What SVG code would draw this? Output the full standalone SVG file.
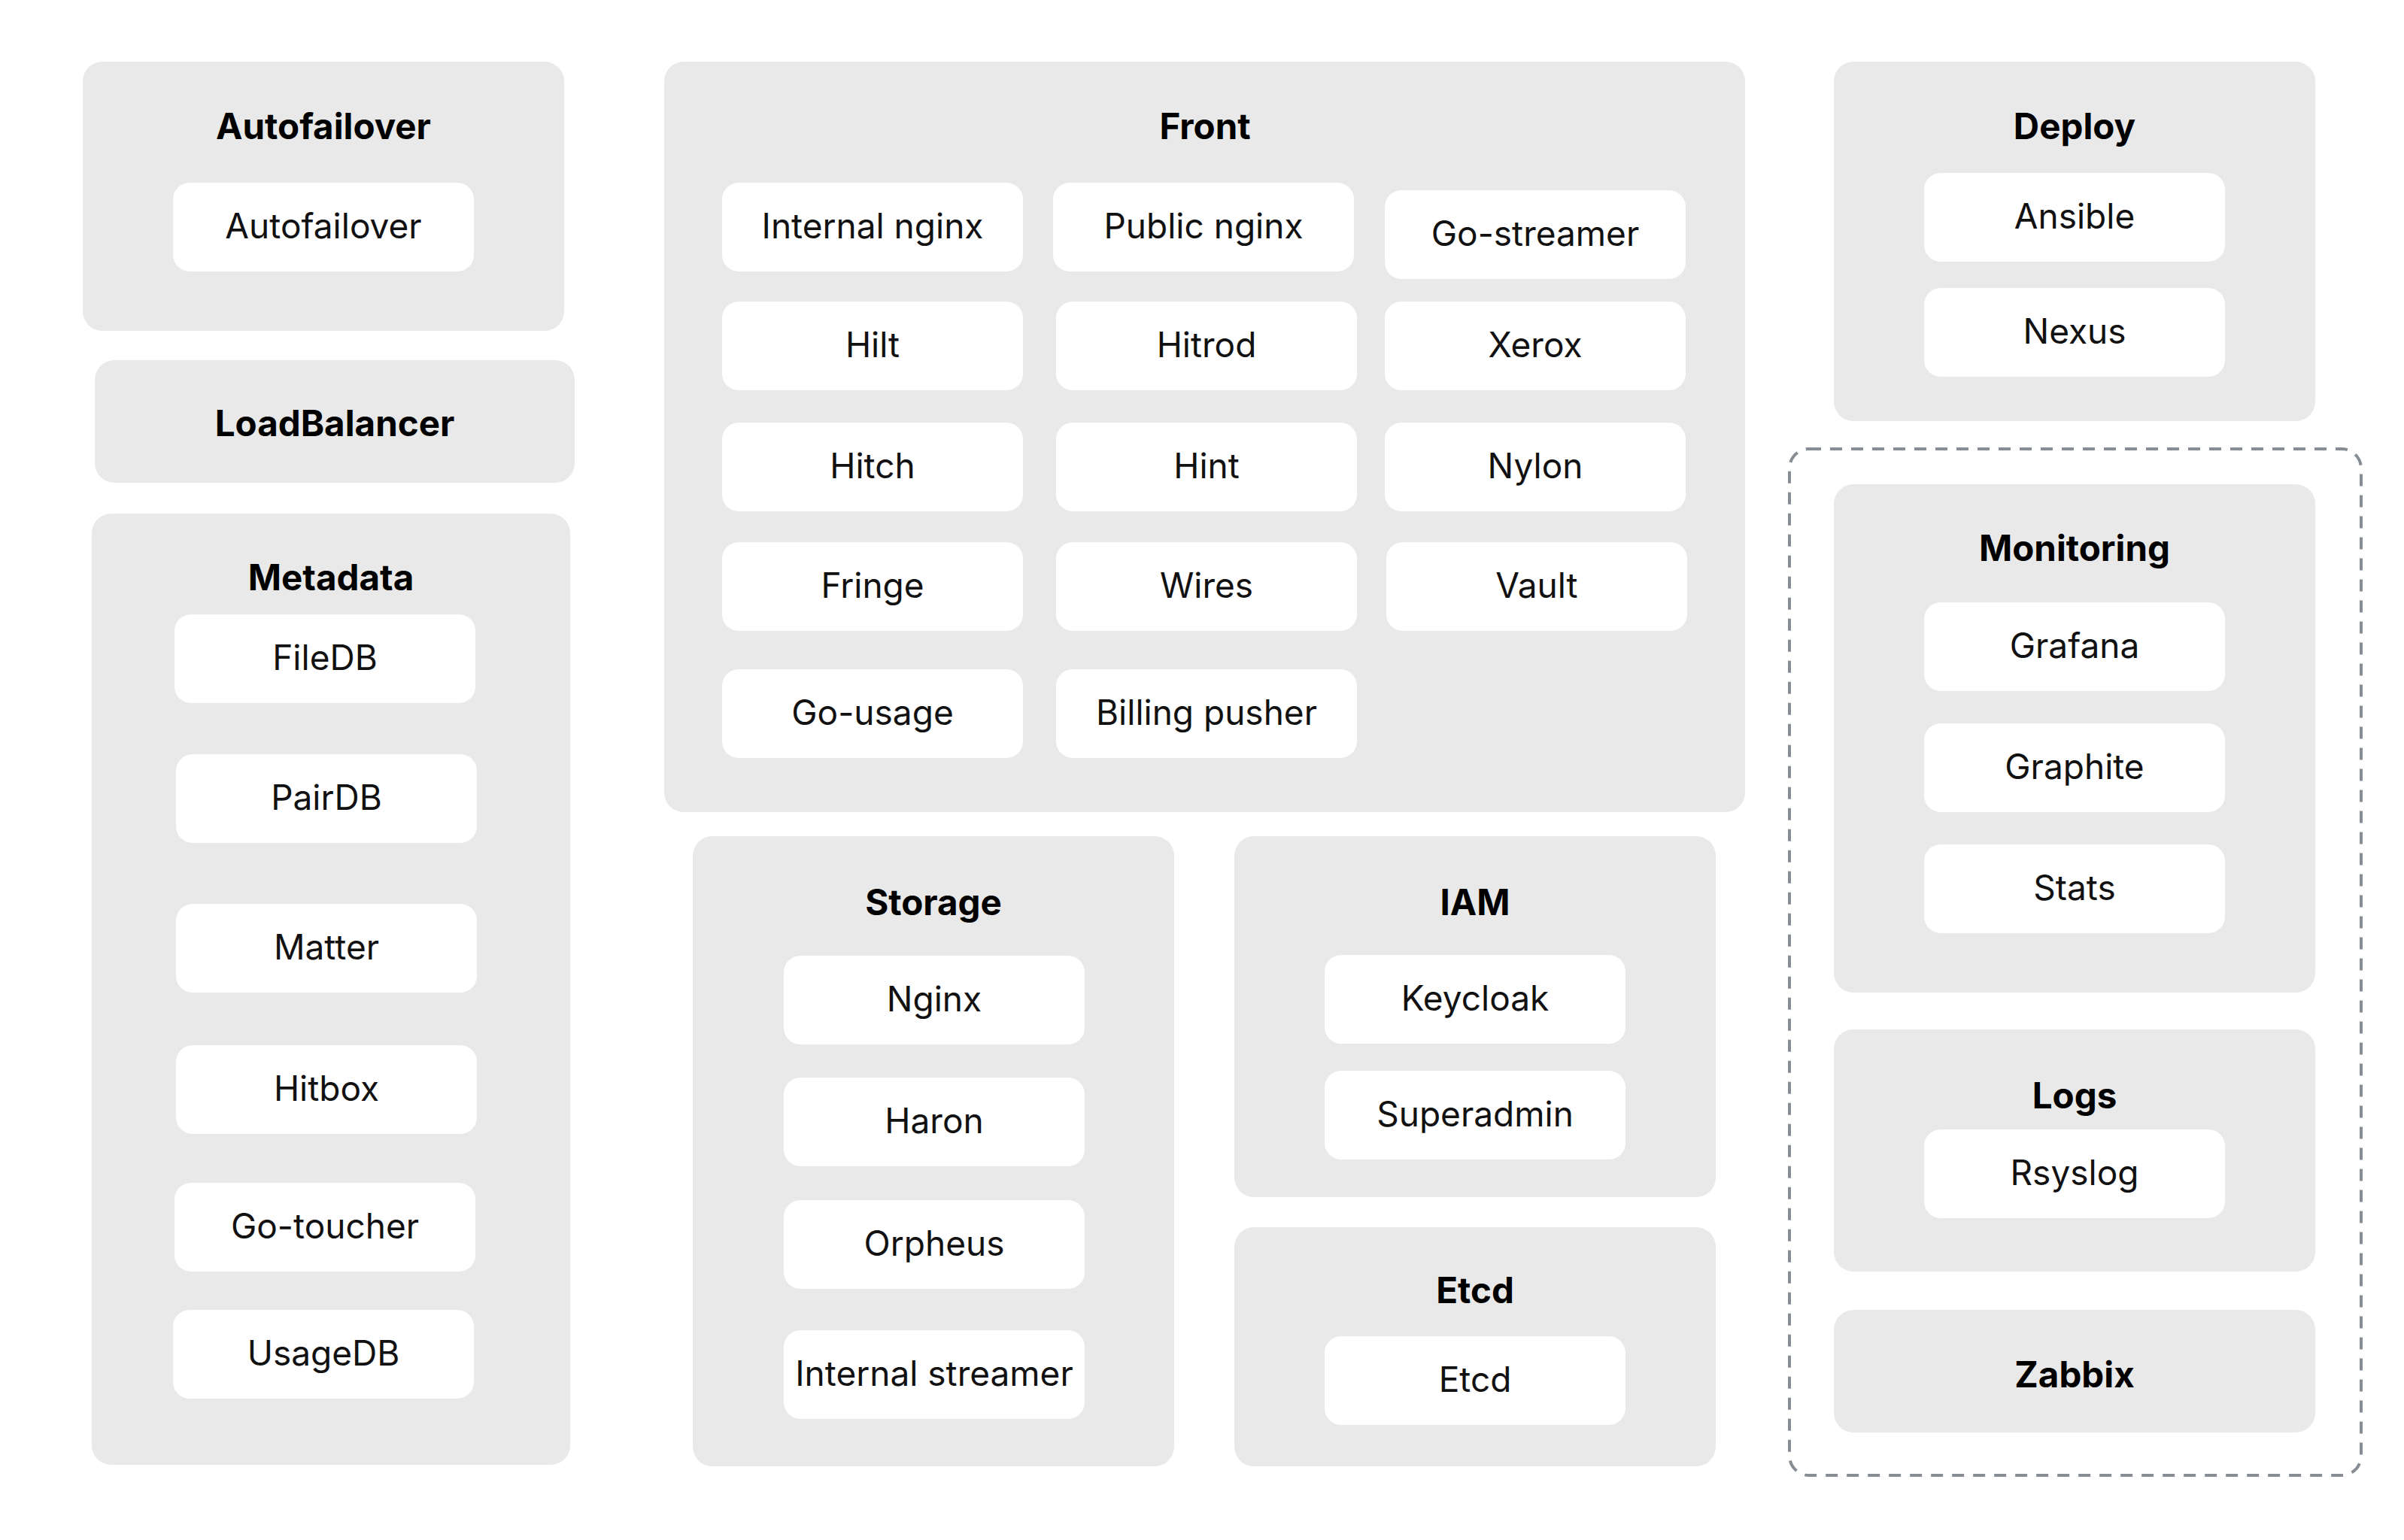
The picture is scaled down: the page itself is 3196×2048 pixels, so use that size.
<svg xmlns="http://www.w3.org/2000/svg" width="3196" height="2048" viewBox="0 0 3196 2048">
<style>
.grp{fill:#e9e9e9}
.itm{fill:#ffffff}
.ttl{font-family:Inter,"Liberation Sans",sans-serif;font-weight:700;font-size:47.5px;fill:#000;text-anchor:middle;dominant-baseline:central}
.lbl{font-family:Inter,"Liberation Sans",sans-serif;font-weight:400;font-size:46px;fill:#111;text-anchor:middle;dominant-baseline:central}
.dash{fill:none;stroke:#878d94;stroke-width:4;stroke-dasharray:16 12}
</style>
<rect width="3196" height="2048" fill="#fff"/>
<g id="autofailover">
<rect class="grp" x="110" y="82" width="640" height="358" rx="26"/>
<text class="ttl" x="430" y="167">Autofailover</text>
<g id="autofailover-item"><rect class="itm" x="230" y="243" width="400" height="118" rx="22"/><text class="lbl" x="430" y="300">Autofailover</text></g>
</g>
<g id="loadbalancer">
<rect class="grp" x="126" y="479" width="638" height="163" rx="26"/>
<text class="ttl" x="445" y="562">LoadBalancer</text>
</g>
<g id="metadata">
<rect class="grp" x="122" y="683" width="636" height="1265" rx="26"/>
<text class="ttl" x="440" y="767">Metadata</text>
<g id="filedb"><rect class="itm" x="232" y="817" width="400" height="118" rx="22"/><text class="lbl" x="432" y="874">FileDB</text></g>
<g id="pairdb"><rect class="itm" x="234" y="1003" width="400" height="118" rx="22"/><text class="lbl" x="434" y="1060">PairDB</text></g>
<g id="matter"><rect class="itm" x="234" y="1202" width="400" height="118" rx="22"/><text class="lbl" x="434" y="1259">Matter</text></g>
<g id="hitbox"><rect class="itm" x="234" y="1390" width="400" height="118" rx="22"/><text class="lbl" x="434" y="1447">Hitbox</text></g>
<g id="go-toucher"><rect class="itm" x="232" y="1573" width="400" height="118" rx="22"/><text class="lbl" x="432" y="1630">Go-toucher</text></g>
<g id="usagedb"><rect class="itm" x="230" y="1742" width="400" height="118" rx="22"/><text class="lbl" x="430" y="1799">UsageDB</text></g>
</g>
<g id="front">
<rect class="grp" x="883" y="82" width="1437" height="998" rx="26"/>
<text class="ttl" x="1602" y="167">Front</text>
<g id="internal-nginx"><rect class="itm" x="960" y="243" width="400" height="118" rx="22"/><text class="lbl" x="1160" y="300">Internal nginx</text></g>
<g id="public-nginx"><rect class="itm" x="1400" y="243" width="400" height="118" rx="22"/><text class="lbl" x="1600" y="300">Public nginx</text></g>
<g id="go-streamer"><rect class="itm" x="1841" y="253" width="400" height="118" rx="22"/><text class="lbl" x="2041" y="310">Go-streamer</text></g>
<g id="hilt"><rect class="itm" x="960" y="401" width="400" height="118" rx="22"/><text class="lbl" x="1160" y="458">Hilt</text></g>
<g id="hitrod"><rect class="itm" x="1404" y="401" width="400" height="118" rx="22"/><text class="lbl" x="1604" y="458">Hitrod</text></g>
<g id="xerox"><rect class="itm" x="1841" y="401" width="400" height="118" rx="22"/><text class="lbl" x="2041" y="458">Xerox</text></g>
<g id="hitch"><rect class="itm" x="960" y="562" width="400" height="118" rx="22"/><text class="lbl" x="1160" y="619">Hitch</text></g>
<g id="hint"><rect class="itm" x="1404" y="562" width="400" height="118" rx="22"/><text class="lbl" x="1604" y="619">Hint</text></g>
<g id="nylon"><rect class="itm" x="1841" y="562" width="400" height="118" rx="22"/><text class="lbl" x="2041" y="619">Nylon</text></g>
<g id="fringe"><rect class="itm" x="960" y="721" width="400" height="118" rx="22"/><text class="lbl" x="1160" y="778">Fringe</text></g>
<g id="wires"><rect class="itm" x="1404" y="721" width="400" height="118" rx="22"/><text class="lbl" x="1604" y="778">Wires</text></g>
<g id="vault"><rect class="itm" x="1843" y="721" width="400" height="118" rx="22"/><text class="lbl" x="2043" y="778">Vault</text></g>
<g id="go-usage"><rect class="itm" x="960" y="890" width="400" height="118" rx="22"/><text class="lbl" x="1160" y="947">Go-usage</text></g>
<g id="billing-pusher"><rect class="itm" x="1404" y="890" width="400" height="118" rx="22"/><text class="lbl" x="1604" y="947">Billing pusher</text></g>
</g>
<g id="storage">
<rect class="grp" x="921" y="1112" width="640" height="838" rx="26"/>
<text class="ttl" x="1241" y="1199">Storage</text>
<g id="nginx"><rect class="itm" x="1042" y="1271" width="400" height="118" rx="22"/><text class="lbl" x="1242" y="1328">Nginx</text></g>
<g id="haron"><rect class="itm" x="1042" y="1433" width="400" height="118" rx="22"/><text class="lbl" x="1242" y="1490">Haron</text></g>
<g id="orpheus"><rect class="itm" x="1042" y="1596" width="400" height="118" rx="22"/><text class="lbl" x="1242" y="1653">Orpheus</text></g>
<g id="internal-streamer"><rect class="itm" x="1042" y="1769" width="400" height="118" rx="22"/><text class="lbl" x="1242" y="1826">Internal streamer</text></g>
</g>
<g id="iam">
<rect class="grp" x="1641" y="1112" width="640" height="480" rx="26"/>
<text class="ttl" x="1961" y="1199">IAM</text>
<g id="keycloak"><rect class="itm" x="1761" y="1270" width="400" height="118" rx="22"/><text class="lbl" x="1961" y="1327">Keycloak</text></g>
<g id="superadmin"><rect class="itm" x="1761" y="1424" width="400" height="118" rx="22"/><text class="lbl" x="1961" y="1481">Superadmin</text></g>
</g>
<g id="etcd">
<rect class="grp" x="1641" y="1632" width="640" height="318" rx="26"/>
<text class="ttl" x="1961" y="1715">Etcd</text>
<g id="etcd-item"><rect class="itm" x="1761" y="1777" width="400" height="118" rx="22"/><text class="lbl" x="1961" y="1834">Etcd</text></g>
</g>
<g id="deploy">
<rect class="grp" x="2438" y="82" width="640" height="478" rx="26"/>
<text class="ttl" x="2758" y="167">Deploy</text>
<g id="ansible"><rect class="itm" x="2558" y="230" width="400" height="118" rx="22"/><text class="lbl" x="2758" y="287">Ansible</text></g>
<g id="nexus"><rect class="itm" x="2558" y="383" width="400" height="118" rx="22"/><text class="lbl" x="2758" y="440">Nexus</text></g>
</g>
<g id="observability">
<rect class="dash" x="2379" y="597" width="760" height="1365" rx="26"/>
<g id="monitoring">
<rect class="grp" x="2438" y="644" width="640" height="676" rx="26"/>
<text class="ttl" x="2758" y="728">Monitoring</text>
<g id="grafana"><rect class="itm" x="2558" y="801" width="400" height="118" rx="22"/><text class="lbl" x="2758" y="858">Grafana</text></g>
<g id="graphite"><rect class="itm" x="2558" y="962" width="400" height="118" rx="22"/><text class="lbl" x="2758" y="1019">Graphite</text></g>
<g id="stats"><rect class="itm" x="2558" y="1123" width="400" height="118" rx="22"/><text class="lbl" x="2758" y="1180">Stats</text></g>
</g>
<g id="logs">
<rect class="grp" x="2438" y="1369" width="640" height="322" rx="26"/>
<text class="ttl" x="2758" y="1456">Logs</text>
<g id="rsyslog"><rect class="itm" x="2558" y="1502" width="400" height="118" rx="22"/><text class="lbl" x="2758" y="1559">Rsyslog</text></g>
</g>
<g id="zabbix">
<rect class="grp" x="2438" y="1742" width="640" height="163" rx="26"/>
<text class="ttl" x="2758" y="1827">Zabbix</text>
</g>
</g>
<g id="connectors"/>
</svg>
